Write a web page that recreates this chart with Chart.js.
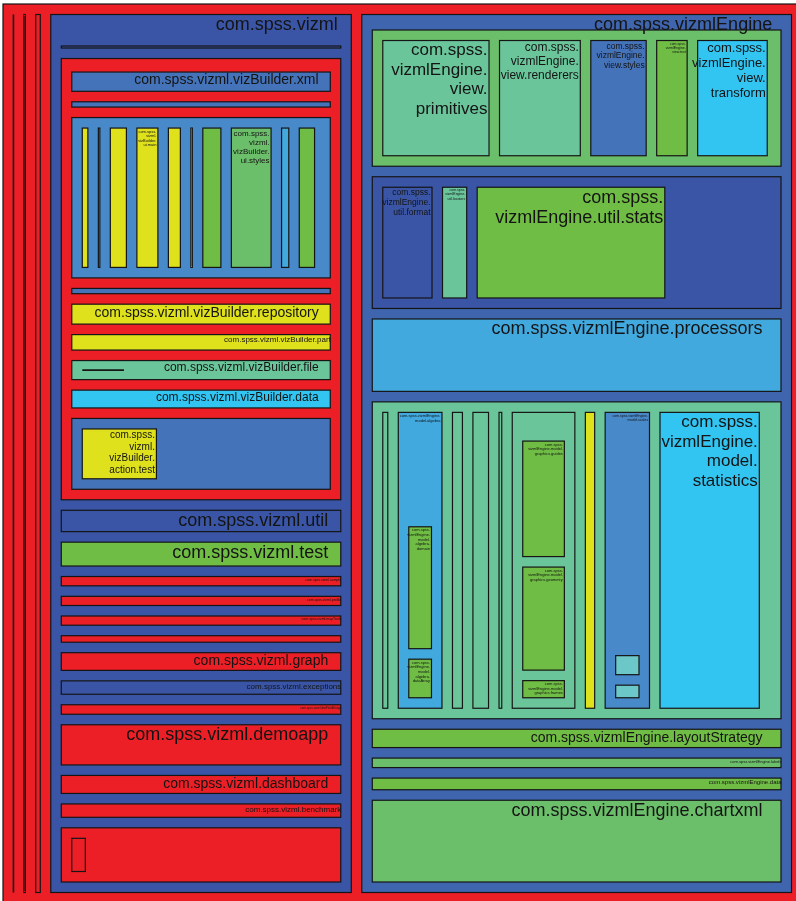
<!DOCTYPE html>
<html>
<head>
<meta charset="utf-8">
<script src="https://cdn.jsdelivr.net/npm/chart.js@4.4.1/dist/chart.umd.min.js"></script>
<style>
  html, body { margin: 0; background: #fff; overflow: hidden; }
  #wrap { width: 802px; height: 903px; }
</style>
</head>
<body>
<div id="wrap"><canvas id="map"></canvas></div>
<script>
// package tree: each group lists a parent's sub-packages, their relative sizes
// along the slicing direction, and the parent's own (non sub-package) share
const ROOT = 'com.spss';

const rootKids  = ['pkg.a', 'pkg.b', 'pkg.c', 'com.spss.vizml', 'com.spss.vizmlEngine'];
const rootSizes = [10.4, 11.85, 15.05, 311.2, 440.5];

const vizmlKids = ['pkg.d', 'com.spss.vizml.vizBuilder', 'com.spss.vizml.util', 'com.spss.vizml.test',
  'com.spss.vizml.sample', 'com.spss.vizml.profile', 'com.spss.vizml.mapTools', 'pkg.e',
  'com.spss.vizml.graph', 'com.spss.vizml.exceptions', 'com.spss.vizml.distFieldBridge',
  'com.spss.vizml.demoapp', 'com.spss.vizml.dashboard', 'com.spss.vizml.benchmark', 'pkg.f'];
const vizmlSizes = [12.5, 451.5, 31.85, 34.35, 19.8, 19.65, 19.7, 17, 28.15, 23.85, 20, 50.65, 28.5, 23.85, 64.65];

const pkgFKids = ['pkg.g'];
const pkgFSizes = [24.3];

const builderKids = ['com.spss.vizml.vizBuilder.xml', 'pkg.h', 'com.spss.vizml.vizBuilder.ui', 'pkg.i',
  'com.spss.vizml.vizBuilder.repository', 'com.spss.vizml.vizBuilder.part', 'com.spss.vizml.vizBuilder.file',
  'com.spss.vizml.vizBuilder.data', 'com.spss.vizml.vizBuilder.action'];
const builderSizes = [29.65, 15.7, 170.15, 15.7, 30.3, 25.85, 29.45, 28.2, 81];

const uiKids = ['ui.1', 'ui.2', 'ui.3', 'com.spss.vizml.vizBuilder.ui.main', 'ui.5', 'ui.6', 'ui.7',
  'com.spss.vizml.vizBuilder.ui.styles', 'ui.9', 'ui.10'];
const uiSizes = [16.35, 12.15, 27, 32, 22.85, 12.15, 29, 51, 18, 26.2];

const fileKids = ['pkg.j'];
const fileSizes = [53];

const actionKids = ['com.spss.vizml.vizBuilder.action.test'];
const actionSizes = [86];

const engineKids = ['com.spss.vizmlEngine.view', 'com.spss.vizmlEngine.util', 'com.spss.vizmlEngine.processors',
  'com.spss.vizmlEngine.model', 'com.spss.vizmlEngine.layoutStrategy', 'com.spss.vizmlEngine.labels',
  'com.spss.vizmlEngine.data', 'com.spss.vizmlEngine.chartxml'];
const engineSizes = [146.65, 142.15, 82.85, 327.2, 28.8, 20, 22.15, 92.2];

const viewKids = ['com.spss.vizmlEngine.view.primitives', 'com.spss.vizmlEngine.view.renderers',
  'com.spss.vizmlEngine.view.styles', 'com.spss.vizmlEngine.view.text', 'com.spss.vizmlEngine.view.transform'];
const viewSizes = [117.85, 92.15, 66.5, 41.35, 80.85];

const utilKids = ['com.spss.vizmlEngine.util.format', 'com.spss.vizmlEngine.util.locators', 'com.spss.vizmlEngine.util.stats'];
const utilSizes = [60.3, 35, 200];

const modelKids = ['model.1', 'com.spss.vizmlEngine.model.algebra', 'model.3', 'model.4', 'model.5',
  'com.spss.vizmlEngine.model.graphics', 'model.7', 'com.spss.vizmlEngine.model.scales',
  'com.spss.vizmlEngine.model.statistics'];
const modelSizes = [15.65, 54.7, 20.65, 26.35, 13.35, 73.8, 20, 55.35, 110.85];

const algebraKids = ['com.spss.vizmlEngine.model.algebra.domain', 'com.spss.vizmlEngine.model.algebra.dataArray'];
const algebraSizes = [130.8, 48.5];

const graphicsKids = ['com.spss.vizmlEngine.model.graphics.guides', 'com.spss.vizmlEngine.model.graphics.geometry',
  'com.spss.vizmlEngine.model.graphics.frames'];
const graphicsSizes = [124.5, 112.2, 27.3];

const scalesKids = ['scales.1', 'scales.2'];
const scalesSizes = [29.2, 22.8];

// [parent, kids, sizes, own share]
const groups = [
  [ROOT, rootKids, rootSizes, 0],
  ['com.spss.vizml', vizmlKids, vizmlSizes, 21],
  ['pkg.f', pkgFKids, pkgFSizes, 247.7],
  ['com.spss.vizml.vizBuilder', builderKids, builderSizes, 3],
  ['com.spss.vizml.vizBuilder.ui', uiKids, uiSizes, 5.3],
  ['com.spss.vizml.vizBuilder.file', fileKids, fileSizes, 199],
  ['com.spss.vizml.vizBuilder.action', actionKids, actionSizes, 166],
  ['com.spss.vizmlEngine', engineKids, engineSizes, 5],
  ['com.spss.vizmlEngine.view', viewKids, viewSizes, 3.3],
  ['com.spss.vizmlEngine.util', utilKids, utilSizes, 106.7],
  ['com.spss.vizmlEngine.model', modelKids, modelSizes, 11.3],
  ['com.spss.vizmlEngine.model.algebra', algebraKids, algebraSizes, 102.7],
  ['com.spss.vizmlEngine.model.graphics', graphicsKids, graphicsSizes, 18],
  ['com.spss.vizmlEngine.model.scales', scalesKids, scalesSizes, 230]
];

// visible label texts (line breaks as in the picture)
const labelOf = {
  'com.spss.vizml': 'com.spss.vizml',
  'com.spss.vizmlEngine': 'com.spss.vizmlEngine',
  'com.spss.vizml.util': 'com.spss.vizml.util',
  'com.spss.vizml.test': 'com.spss.vizml.test',
  'com.spss.vizml.sample': 'com.spss.vizml.sample',
  'com.spss.vizml.profile': 'com.spss.vizml.profile',
  'com.spss.vizml.mapTools': 'com.spss.vizml.mapTools',
  'com.spss.vizml.graph': 'com.spss.vizml.graph',
  'com.spss.vizml.exceptions': 'com.spss.vizml.exceptions',
  'com.spss.vizml.distFieldBridge': 'com.spss.vizml.distFieldBridge',
  'com.spss.vizml.demoapp': 'com.spss.vizml.demoapp',
  'com.spss.vizml.dashboard': 'com.spss.vizml.dashboard',
  'com.spss.vizml.benchmark': 'com.spss.vizml.benchmark',
  'com.spss.vizml.vizBuilder.xml': 'com.spss.vizml.vizBuilder.xml',
  'com.spss.vizml.vizBuilder.repository': 'com.spss.vizml.vizBuilder.repository',
  'com.spss.vizml.vizBuilder.part': 'com.spss.vizml.vizBuilder.part',
  'com.spss.vizml.vizBuilder.file': 'com.spss.vizml.vizBuilder.file',
  'com.spss.vizml.vizBuilder.data': 'com.spss.vizml.vizBuilder.data',
  'com.spss.vizml.vizBuilder.ui.main': 'com.spss.\nvizml.\nvizBuilder.\nui.main',
  'com.spss.vizml.vizBuilder.ui.styles': 'com.spss.\nvizml.\nvizBuilder.\nui.styles',
  'com.spss.vizml.vizBuilder.action.test': 'com.spss.\nvizml.\nvizBuilder.\naction.test',
  'com.spss.vizmlEngine.processors': 'com.spss.vizmlEngine.processors',
  'com.spss.vizmlEngine.layoutStrategy': 'com.spss.vizmlEngine.layoutStrategy',
  'com.spss.vizmlEngine.labels': 'com.spss.vizmlEngine.labels',
  'com.spss.vizmlEngine.data': 'com.spss.vizmlEngine.data',
  'com.spss.vizmlEngine.chartxml': 'com.spss.vizmlEngine.chartxml',
  'com.spss.vizmlEngine.view.primitives': 'com.spss.\nvizmlEngine.\nview.\nprimitives',
  'com.spss.vizmlEngine.view.renderers': 'com.spss.\nvizmlEngine.\nview.renderers',
  'com.spss.vizmlEngine.view.styles': 'com.spss.\nvizmlEngine.\nview.styles',
  'com.spss.vizmlEngine.view.text': 'com.spss.\nvizmlEngine.\nview.text',
  'com.spss.vizmlEngine.view.transform': 'com.spss.\nvizmlEngine.\nview.\ntransform',
  'com.spss.vizmlEngine.util.format': 'com.spss.\nvizmlEngine.\nutil.format',
  'com.spss.vizmlEngine.util.locators': 'com.spss.\nvizmlEngine.\nutil.locators',
  'com.spss.vizmlEngine.util.stats': 'com.spss.\nvizmlEngine.util.stats',
  'com.spss.vizmlEngine.model.algebra': 'com.spss.vizmlEngine.\nmodel.algebra',
  'com.spss.vizmlEngine.model.scales': 'com.spss.vizmlEngine.\nmodel.scales',
  'com.spss.vizmlEngine.model.statistics': 'com.spss.\nvizmlEngine.\nmodel.\nstatistics',
  'com.spss.vizmlEngine.model.algebra.domain': 'com.spss.\nvizmlEngine.\nmodel.\nalgebra.\ndomain',
  'com.spss.vizmlEngine.model.algebra.dataArray': 'com.spss.\nvizmlEngine.\nmodel.\nalgebra.\ndataArray',
  'com.spss.vizmlEngine.model.graphics.guides': 'com.spss.\nvizmlEngine.model.\ngraphics.guides',
  'com.spss.vizmlEngine.model.graphics.geometry': 'com.spss.\nvizmlEngine.model.\ngraphics.geometry',
  'com.spss.vizmlEngine.model.graphics.frames': 'com.spss.\nvizmlEngine.model.\ngraphics.frames'
};

// ---- styles ----
const labelPx = {
  'com.spss.vizml': 18, 'com.spss.vizmlEngine': 18, 'com.spss.vizml.util': 18, 'com.spss.vizml.test': 18,
  'com.spss.vizml.sample': 3.5, 'com.spss.vizml.profile': 3.5, 'com.spss.vizml.mapTools': 3.5,
  'com.spss.vizml.graph': 14, 'com.spss.vizml.exceptions': 8, 'com.spss.vizml.distFieldBridge': 3,
  'com.spss.vizml.demoapp': 18, 'com.spss.vizml.dashboard': 14, 'com.spss.vizml.benchmark': 8,
  'com.spss.vizml.vizBuilder.xml': 14, 'com.spss.vizml.vizBuilder.repository': 14,
  'com.spss.vizml.vizBuilder.part': 8, 'com.spss.vizml.vizBuilder.file': 12, 'com.spss.vizml.vizBuilder.data': 12,
  'com.spss.vizml.vizBuilder.ui.main': 4, 'com.spss.vizml.vizBuilder.ui.styles': 8,
  'com.spss.vizml.vizBuilder.action.test': 10,
  'com.spss.vizmlEngine.processors': 18, 'com.spss.vizmlEngine.layoutStrategy': 14,
  'com.spss.vizmlEngine.labels': 4, 'com.spss.vizmlEngine.data': 6, 'com.spss.vizmlEngine.chartxml': 18,
  'com.spss.vizmlEngine.view.primitives': 17, 'com.spss.vizmlEngine.view.renderers': 12,
  'com.spss.vizmlEngine.view.styles': 8.5, 'com.spss.vizmlEngine.view.text': 3.5,
  'com.spss.vizmlEngine.view.transform': 13, 'com.spss.vizmlEngine.util.format': 8.5,
  'com.spss.vizmlEngine.util.locators': 3.5, 'com.spss.vizmlEngine.util.stats': 18,
  'com.spss.vizmlEngine.model.algebra': 4, 'com.spss.vizmlEngine.model.scales': 3.5,
  'com.spss.vizmlEngine.model.statistics': 17
};

const RED = '#ec1f26', NAVY = '#3a55a5', ENGINE = '#3f65ae', MID = '#4573b9', UIBLUE = '#4889ca',
      YELLOW = '#dfe11c', GREEN = '#70bd45', LGREEN = '#6cbf6a', TEAL = '#6bc59b', CYAN = '#33c5f2',
      SKY = '#42a9df', PALE = '#6cc7c8';

const fillOf = {
  'com.spss.vizml': NAVY, 'com.spss.vizmlEngine': ENGINE, 'pkg.d': NAVY,
  'com.spss.vizml.util': NAVY, 'com.spss.vizml.test': GREEN, 'com.spss.vizml.exceptions': NAVY,
  'com.spss.vizml.vizBuilder.xml': MID, 'pkg.h': MID, 'com.spss.vizml.vizBuilder.ui': UIBLUE, 'pkg.i': MID,
  'com.spss.vizml.vizBuilder.repository': YELLOW, 'com.spss.vizml.vizBuilder.part': YELLOW,
  'com.spss.vizml.vizBuilder.file': TEAL, 'pkg.j': TEAL, 'com.spss.vizml.vizBuilder.data': CYAN,
  'com.spss.vizml.vizBuilder.action': MID, 'com.spss.vizml.vizBuilder.action.test': YELLOW,
  'ui.1': YELLOW, 'ui.2': YELLOW, 'ui.3': YELLOW, 'com.spss.vizml.vizBuilder.ui.main': YELLOW,
  'ui.5': YELLOW, 'ui.6': YELLOW, 'ui.7': GREEN, 'com.spss.vizml.vizBuilder.ui.styles': LGREEN,
  'ui.9': SKY, 'ui.10': GREEN,
  'com.spss.vizmlEngine.view': LGREEN, 'com.spss.vizmlEngine.util': NAVY,
  'com.spss.vizmlEngine.processors': SKY, 'com.spss.vizmlEngine.model': TEAL,
  'com.spss.vizmlEngine.layoutStrategy': GREEN, 'com.spss.vizmlEngine.labels': LGREEN,
  'com.spss.vizmlEngine.data': GREEN, 'com.spss.vizmlEngine.chartxml': LGREEN,
  'com.spss.vizmlEngine.view.primitives': TEAL, 'com.spss.vizmlEngine.view.renderers': TEAL,
  'com.spss.vizmlEngine.view.styles': MID, 'com.spss.vizmlEngine.view.text': GREEN,
  'com.spss.vizmlEngine.view.transform': CYAN,
  'com.spss.vizmlEngine.util.format': NAVY, 'com.spss.vizmlEngine.util.locators': TEAL,
  'com.spss.vizmlEngine.util.stats': GREEN,
  'model.1': TEAL, 'com.spss.vizmlEngine.model.algebra': SKY, 'model.3': TEAL, 'model.4': TEAL, 'model.5': TEAL,
  'com.spss.vizmlEngine.model.graphics': TEAL, 'model.7': YELLOW, 'com.spss.vizmlEngine.model.scales': UIBLUE,
  'com.spss.vizmlEngine.model.statistics': CYAN,
  'com.spss.vizmlEngine.model.algebra.domain': GREEN, 'com.spss.vizmlEngine.model.algebra.dataArray': GREEN,
  'com.spss.vizmlEngine.model.graphics.guides': GREEN, 'com.spss.vizmlEngine.model.graphics.geometry': GREEN,
  'com.spss.vizmlEngine.model.graphics.frames': GREEN,
  'scales.1': PALE, 'scales.2': PALE
};

const PAD = 10.5;   // border-to-child distance, px
const GAP = 10.5;   // sibling distance, px
const FONT = '"Liberation Sans", Arial, sans-serif';

const groupOf = {};
groups.forEach(([p, kids, sizes, own]) => { groupOf[p] = { kids, sizes, own }; });

const treemapPlugin = {
  id: 'pkgTreemap',
  afterDraw(chart) {
    const xs = chart.scales.x, ys = chart.scales.y, ctx = chart.ctx;
    const kx = Math.abs(xs.getPixelForValue(1) - xs.getPixelForValue(0));
    const ky = Math.abs(ys.getPixelForValue(1) - ys.getPixelForValue(0));
    const rects = [];

    const place = (id, r, depth) => {
      rects.push([id, r]);
      const g = groupOf[id];
      if (!g) return;
      const w = (r.x1 - r.x0) * kx, h = (r.y1 - r.y0) * ky;
      const horiz = depth === 0 || w >= h;
      const k = horiz ? kx : ky, kc = horiz ? ky : kx;
      const a0 = horiz ? r.x0 : r.y0, a1 = horiz ? r.x1 : r.y1;
      const c0 = (horiz ? r.y0 : r.x0) + PAD / kc, c1 = (horiz ? r.y1 : r.x1) - PAD / kc;
      const half = GAP / 2 / k;
      const start = a0 + PAD / k - half, end = a1 - PAD / k + half;
      const total = g.sizes.reduce((s, v) => s + v, 0) + g.own;
      const sc = (end - start) / total;
      let pos = start + (horiz ? 0 : g.own * sc);
      g.kids.forEach((kid, i) => {
        const m0 = pos + half, m1 = pos + g.sizes[i] * sc - half;
        pos += g.sizes[i] * sc;
        place(kid, horiz ? { x0: m0, x1: m1, y0: c0, y1: c1 } : { x0: c0, x1: c1, y0: m0, y1: m1 }, depth + 1);
      });
    };
    place(ROOT, { x0: 0, x1: 1, y0: 0, y1: 1 }, 0);

    const px = r => {
      let l = xs.getPixelForValue(r.x0), rt = xs.getPixelForValue(r.x1);
      let t = ys.getPixelForValue(r.y0), b = ys.getPixelForValue(r.y1);
      if (rt < l) { l = rt = (l + rt) / 2; }
      if (b < t) { t = b = (t + b) / 2; }
      return { l, t, r: rt, b };
    };

    ctx.save();
    rects.forEach(([id, r]) => {
      const p = px(r);
      const w = p.r - p.l, h = p.b - p.t;
      ctx.strokeStyle = '#151515';
      if (w < 0.6 || h < 0.6) {
        ctx.lineWidth = 1.6;
        ctx.beginPath();
        ctx.moveTo(p.l, p.t);
        ctx.lineTo(p.r, p.b);
        ctx.stroke();
        return;
      }
      ctx.fillStyle = fillOf[id] || RED;
      ctx.fillRect(p.l, p.t, w, h);
      ctx.lineWidth = 1.2;
      ctx.strokeRect(p.l, p.t, w, h);
    });

    ctx.fillStyle = '#141414';
    ctx.textAlign = 'right';
    ctx.textBaseline = 'top';
    rects.forEach(([id, r]) => {
      const text = labelOf[id];
      if (!text) return;
      const p = px(r);
      const fs = labelPx[id] || 4;
      const lines = text.split('\n');
      let inset;
      if (lines.length > 1) inset = 1.5;
      else if (fs >= 12) inset = 0.045 * (p.r - p.l);
      else inset = -0.5;
      ctx.font = fs + 'px ' + FONT;
      lines.forEach((ln, i) => ctx.fillText(ln, p.r - inset, p.t + 1.5 + i * fs * 1.15));
    });
    ctx.restore();
  }
};

new Chart(document.getElementById('map'), {
  type: 'scatter',
  data: { datasets: [{ data: [], pointRadius: 0 }] },
  options: {
    responsive: true,
    maintainAspectRatio: false,
    animation: false,
    layout: { padding: { left: 3, top: 4, right: 0, bottom: 0 } },
    plugins: { legend: { display: false }, tooltip: { enabled: false } },
    scales: {
      x: { type: 'linear', min: 0, max: 1, display: false },
      y: { type: 'linear', min: 0, max: 1, reverse: true, display: false }
    }
  },
  plugins: [treemapPlugin]
});
</script>
</body>
</html>
